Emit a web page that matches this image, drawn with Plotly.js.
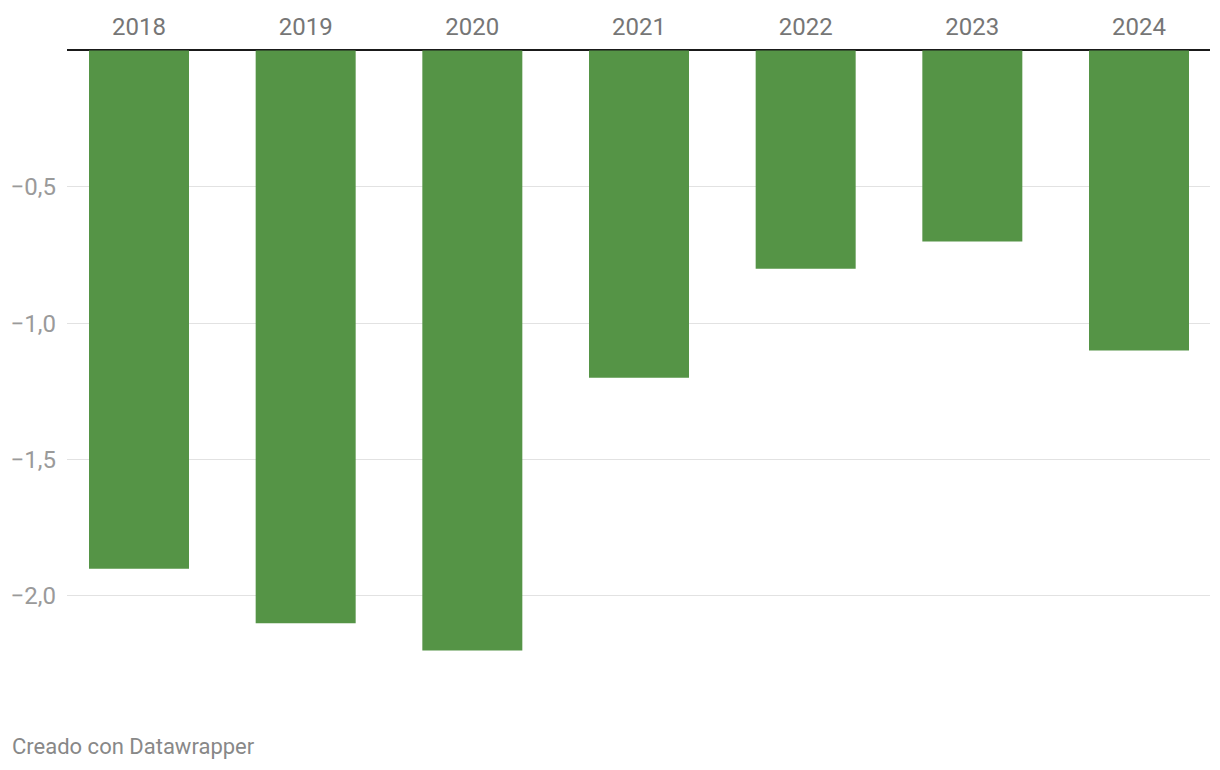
<!DOCTYPE html>
<html>
<head>
<meta charset="utf-8">
<script src="https://cdn.plot.ly/plotly-3.0.1.min.js"></script>
<style>
html,body{margin:0;padding:0;background:#fff;}
#chart{width:1220px;height:770px;}
</style>
</head>
<body>
<div id="chart"></div>
<script>
const years = ["2018", "2019", "2020", "2021", "2022", "2023", "2024"];
const values = [-1.9, -2.1, -2.2, -1.2, -0.8, -0.7, -1.1];
const yTickVals = [-2.0, -1.5, -1.0, -0.5];
const yTickText = ["\u22122,0", "\u22121,5", "\u22121,0", "\u22120,5"];
const footerText = "Creado con Datawrapper";

const trace = {
  type: "bar",
  x: years,
  y: values,
  width: 0.6,
  marker: {color: "#559446"},
  hoverinfo: "x+y"
};

const layout = {
  width: 1220,
  height: 770,
  margin: {l: 67, r: 10, t: 41, b: 65},
  paper_bgcolor: "#fff",
  plot_bgcolor: "#fff",
  font: {family: "Roboto, sans-serif", color: "#999"},
  showlegend: false,
  bargap: 0.4,
  xaxis: {
    type: "category",
    side: "top",
    range: [-0.432, 6.426],
    showgrid: false,
    zeroline: false,
    showline: false,
    ticks: "",
    ticklabelstandoff: 0,
    tickfont: {size: 24, color: "#767676", family: "Roboto, sans-serif"},
    fixedrange: true
  },
  yaxis: {
    range: [-2.4, 0.0348],
    tickvals: yTickVals,
    ticktext: yTickText,
    showgrid: true,
    gridcolor: "#e2e2e2",
    gridwidth: 1,
    zeroline: true,
    zerolinecolor: "#1a1a1a",
    zerolinewidth: 2,
    showline: false,
    ticks: "",
    ticklabelstandoff: 10,
    tickfont: {size: 24, color: "#9a9a9a", family: "Roboto, sans-serif"},
    fixedrange: true
  },
  annotations: [{
    text: footerText,
    xref: "paper", yref: "paper",
    x: -0.0499, y: -0.062,
    xanchor: "left", yanchor: "middle",
    showarrow: false,
    font: {size: 22, color: "#888", family: "Roboto, sans-serif"}
  }]
};

Plotly.newPlot("chart", [trace], layout, {displayModeBar: false, staticPlot: true});
</script>
</body>
</html>
